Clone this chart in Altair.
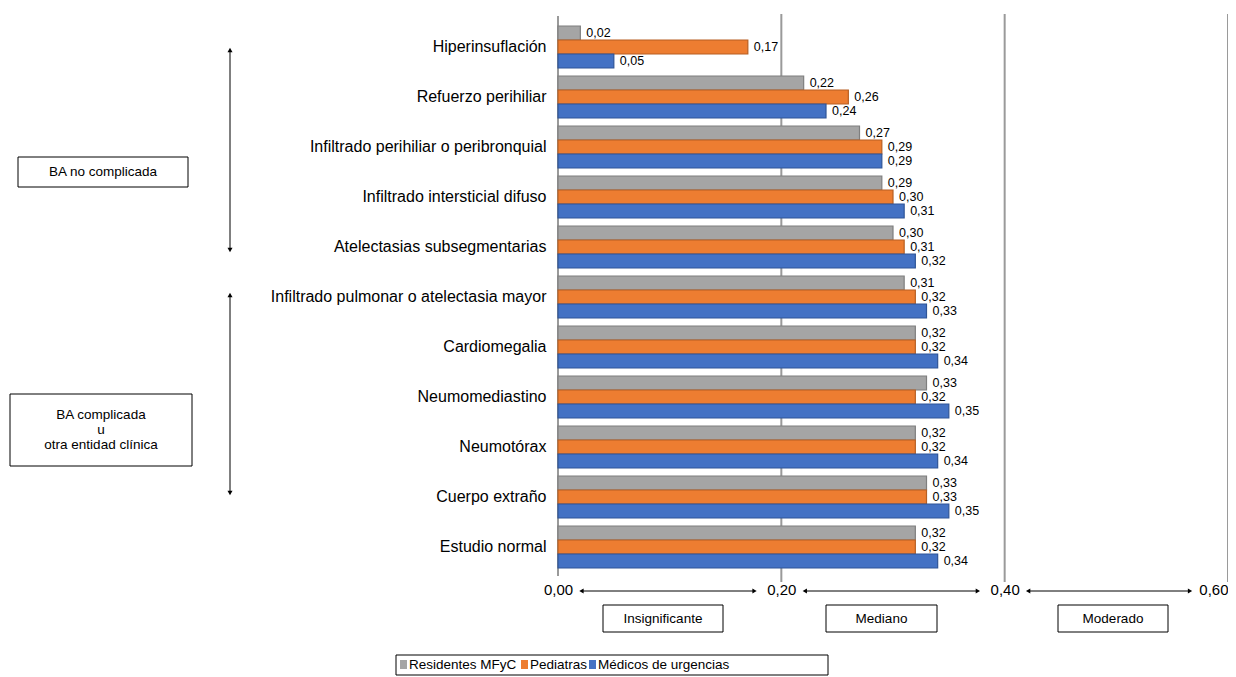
import altair as alt
import pandas as pd

categorias = [
    "Hiperinsuflación", "Refuerzo perihiliar", "Infiltrado perihiliar o peribronquial",
    "Infiltrado intersticial difuso", "Atelectasias subsegmentarias",
    "Infiltrado pulmonar o atelectasia mayor", "Cardiomegalia", "Neumomediastino",
    "Neumotórax", "Cuerpo extraño", "Estudio normal",
]
series = ["Residentes MFyC", "Pediatras", "Médicos de urgencias"]
colores = ["#a5a5a5", "#ed7d31", "#4472c4"]
bordes = ["#7f7f7f", "#b75f22", "#2f5597"]
residentes = [0.02, 0.22, 0.27, 0.29, 0.30, 0.31, 0.32, 0.33, 0.32, 0.33, 0.32]
pediatras = [0.17, 0.26, 0.29, 0.30, 0.31, 0.32, 0.32, 0.32, 0.32, 0.33, 0.32]
urgencias = [0.05, 0.24, 0.29, 0.31, 0.32, 0.33, 0.34, 0.35, 0.34, 0.35, 0.34]

rows = []
for s, vals in zip(series, [residentes, pediatras, urgencias]):
    for c, v in zip(categorias, vals):
        rows.append({"cat": c, "serie": s, "valor": v, "label": f"{v:.2f}".replace(".", ",")})
df = pd.DataFrame(rows)

FONT = "Liberation Sans"
W, H = 670, 550
xs = alt.Scale(domain=[0, 0.6], nice=False)
ys = alt.Scale(paddingInner=0.16, paddingOuter=0.08)
col = alt.Color("serie:N", sort=series, scale=alt.Scale(domain=series, range=colores), legend=None)
stk = alt.Stroke("serie:N", sort=series, scale=alt.Scale(domain=series, range=bordes), legend=None)

base = alt.Chart(df).encode(
    y=alt.Y("cat:N", sort=categorias, scale=ys, title=None,
            axis=alt.Axis(domain=False, ticks=False, labelFontSize=16, labelPadding=12,
                          labelColor="black", labelFont=FONT, labelLimit=400)),
    yOffset=alt.YOffset("serie:N", sort=series),
)
bars = base.mark_bar(strokeWidth=1.2).encode(
    x=alt.X("valor:Q", scale=xs, title=None,
            axis=alt.Axis(values=[0, 0.2, 0.4, 0.6], format=".2f",
                          labelExpr="replace(datum.label, '.', ',')", domain=False, ticks=False,
                          grid=False, labelFontSize=15, labelColor="black", labelFont=FONT,
                          labelPadding=10, labelFlush=False,
                          labelAlign=alt.ExprRef(expr="datum.value >= 0.6 ? 'right' : 'center'"))),
    color=col, stroke=stk,
)
labels = base.mark_text(align="left", dx=6, fontSize=12.5, font=FONT, color="black").encode(
    x=alt.X("valor:Q", scale=xs), text="label:N")

one = pd.DataFrame({"a": [0]})


def rule(x, x2, y, y2):
    return alt.Chart(one).mark_rule(color="black", strokeWidth=1).encode(
        x=x, x2=x2, y=y, y2=y2)


def head(x, y, shape):
    return alt.Chart(one).mark_point(shape=shape, filled=True, color="black", size=25, opacity=1).encode(x=x, y=y)


def box(x, x2, y, y2, text, lines=1):
    r = alt.Chart(one).mark_rect(fill="white", stroke="black", strokeWidth=1).encode(
        x=alt.value(x), x2=alt.value(x2), y=alt.value(y), y2=alt.value(y2))
    t = alt.Chart(one).mark_text(fontSize=13.5, font=FONT, color="black", lineHeight=15).encode(
        x=alt.value((x + x2) / 2), y=alt.value((y + y2) / 2 - (lines - 1) * 7.5),
        text=alt.value(text.split("\n") if lines > 1 else text))
    return r + t


layers = []
# vertical grid lines
for v in [0.2, 0.4, 0.6]:
    layers.append(alt.Chart(pd.DataFrame({"v": [v]})).mark_rule(color="#9a9a9a", strokeWidth=2).encode(
        x=alt.X("v:Q", scale=xs), y=alt.value(-8), y2=alt.value(H + 10)))
layers.append(alt.Chart(one).mark_rule(color="#9a9a9a", strokeWidth=2).encode(
    x=alt.value(0), y=alt.value(-6), y2=alt.value(H + 4)))

# horizontal arrows
AY = 569
for a, b in [(0.021, 0.176), (0.221, 0.376), (0.421, 0.566)]:
    pa = pd.DataFrame({"a": [a], "b": [b]})
    layers.append(alt.Chart(pa).mark_rule(color="black").encode(
        x=alt.X("a:Q", scale=xs), x2="b:Q", y=alt.value(AY)))
    layers.append(alt.Chart(pa).mark_point(shape="triangle-left", filled=True, color="black", size=25, opacity=1).encode(
        x=alt.X("a:Q", scale=xs), y=alt.value(AY)))
    layers.append(alt.Chart(pa).mark_point(shape="triangle-right", filled=True, color="black", size=25, opacity=1).encode(
        x=alt.X("b:Q", scale=xs), y=alt.value(AY)))

# vertical arrows
VX = 230 - 558
for y1, y2 in [(28, 228), (273, 471)]:
    layers.append(rule(alt.value(VX), alt.value(VX), alt.value(y1), alt.value(y2)))
    layers.append(head(alt.value(VX), alt.value(y1), "triangle-up"))
    layers.append(head(alt.value(VX), alt.value(y2), "triangle-down"))

layers.append(box(18 - 558, 188 - 558, 135, 165, "BA no complicada"))
layers.append(box(10 - 558, 192 - 558, 372, 444, "BA complicada\nu\notra entidad clínica", 3))
layers.append(box(603 - 558, 723 - 558, 583, 610, "Insignificante"))
layers.append(box(826 - 558, 937 - 558, 583, 610, "Mediano"))
layers.append(box(1058 - 558, 1168 - 558, 583, 610, "Moderado"))

# legend
LY = 643
layers.append(alt.Chart(one).mark_rect(fill="white", stroke="black").encode(
    x=alt.value(396 - 558), x2=alt.value(828 - 558), y=alt.value(LY - 10), y2=alt.value(LY + 10)))
for s, c, lx in zip(series, colores, [400, 521, 589]):
    layers.append(alt.Chart(one).mark_rect(fill=c).encode(
        x=alt.value(lx - 558), x2=alt.value(lx - 558 + 7), y=alt.value(LY - 5), y2=alt.value(LY + 4)))
    layers.append(alt.Chart(one).mark_text(align="left", fontSize=13.5, font=FONT, color="black").encode(
        x=alt.value(lx - 558 + 9), y=alt.value(LY), text=alt.value(s)))

chart = alt.layer(*layers, bars, labels).properties(
    width=W, height=H,
    autosize=alt.AutoSizeParams(type="none"),
    padding={"left": 550, "top": 14, "right": 0, "bottom": 110},
).configure_view(stroke=None)

chart.save("out.html", embed_options={"renderer": "svg", "actions": False})
